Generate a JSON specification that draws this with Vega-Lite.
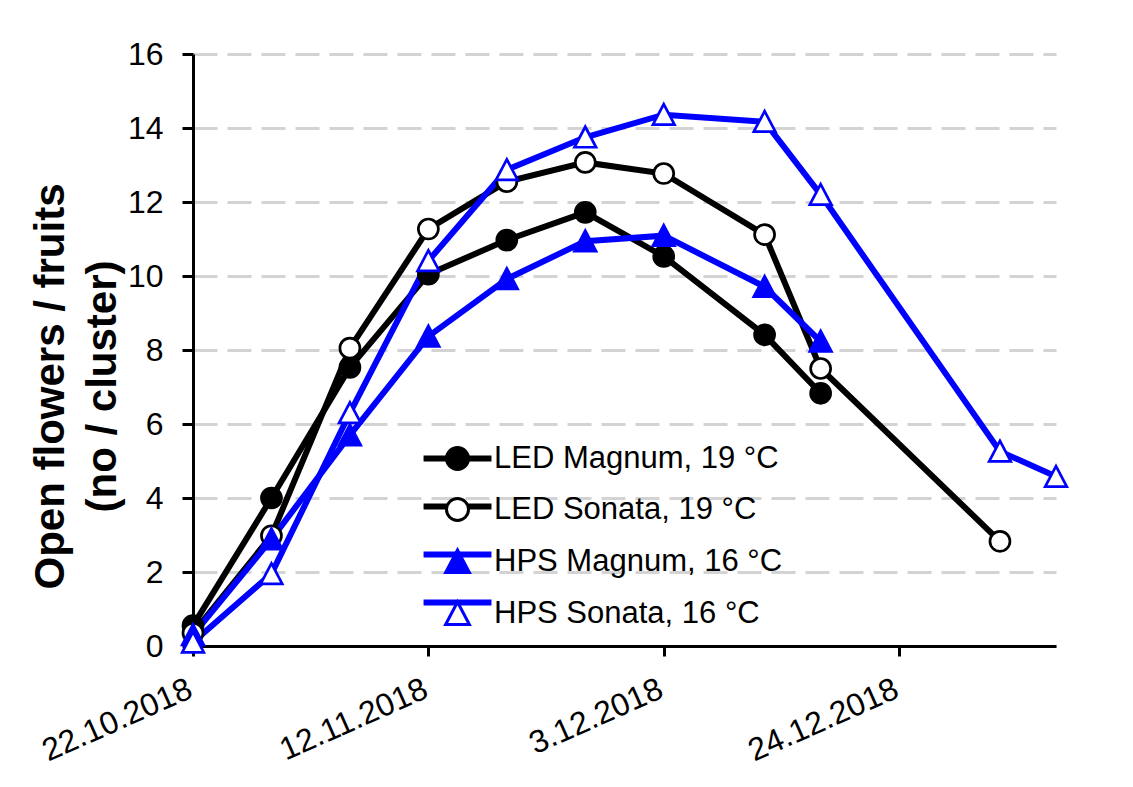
{
  "$schema": "https://vega.github.io/schema/vega-lite/v6.json",
  "width": 863,
  "height": 592,
  "autosize": "none",
  "padding": {"left": 193, "top": 54, "right": 77, "bottom": 141},
  "background": "white",
  "config": {
    "view": {"stroke": null},
    "font": "Liberation Sans"
  },
  "data": {
    "values": [
      {"date": "2018-10-22", "series": "LED Magnum, 19 °C", "value": 0.55},
      {"date": "2018-10-29", "series": "LED Magnum, 19 °C", "value": 4.0},
      {"date": "2018-11-05", "series": "LED Magnum, 19 °C", "value": 7.53},
      {"date": "2018-11-12", "series": "LED Magnum, 19 °C", "value": 10.05},
      {"date": "2018-11-19", "series": "LED Magnum, 19 °C", "value": 10.97},
      {"date": "2018-11-26", "series": "LED Magnum, 19 °C", "value": 11.72},
      {"date": "2018-12-03", "series": "LED Magnum, 19 °C", "value": 10.53},
      {"date": "2018-12-12", "series": "LED Magnum, 19 °C", "value": 8.41},
      {"date": "2018-12-17", "series": "LED Magnum, 19 °C", "value": 6.83},
      {"date": "2018-10-22", "series": "LED Sonata, 19 °C", "value": 0.35},
      {"date": "2018-10-29", "series": "LED Sonata, 19 °C", "value": 2.98},
      {"date": "2018-11-05", "series": "LED Sonata, 19 °C", "value": 8.05},
      {"date": "2018-11-12", "series": "LED Sonata, 19 °C", "value": 11.27},
      {"date": "2018-11-19", "series": "LED Sonata, 19 °C", "value": 12.55},
      {"date": "2018-11-26", "series": "LED Sonata, 19 °C", "value": 13.07},
      {"date": "2018-12-03", "series": "LED Sonata, 19 °C", "value": 12.77},
      {"date": "2018-12-12", "series": "LED Sonata, 19 °C", "value": 11.12},
      {"date": "2018-12-17", "series": "LED Sonata, 19 °C", "value": 7.5},
      {"date": "2019-01-02", "series": "LED Sonata, 19 °C", "value": 2.83},
      {"date": "2018-10-22", "series": "HPS Magnum, 16 °C", "value": 0.3},
      {"date": "2018-10-29", "series": "HPS Magnum, 16 °C", "value": 2.89},
      {"date": "2018-11-05", "series": "HPS Magnum, 16 °C", "value": 5.7},
      {"date": "2018-11-12", "series": "HPS Magnum, 16 °C", "value": 8.37},
      {"date": "2018-11-19", "series": "HPS Magnum, 16 °C", "value": 9.92},
      {"date": "2018-11-26", "series": "HPS Magnum, 16 °C", "value": 10.94},
      {"date": "2018-12-03", "series": "HPS Magnum, 16 °C", "value": 11.09},
      {"date": "2018-12-12", "series": "HPS Magnum, 16 °C", "value": 9.71},
      {"date": "2018-12-17", "series": "HPS Magnum, 16 °C", "value": 8.23},
      {"date": "2018-10-22", "series": "HPS Sonata, 16 °C", "value": 0.1},
      {"date": "2018-10-29", "series": "HPS Sonata, 16 °C", "value": 1.95},
      {"date": "2018-11-05", "series": "HPS Sonata, 16 °C", "value": 6.3},
      {"date": "2018-11-12", "series": "HPS Sonata, 16 °C", "value": 10.41},
      {"date": "2018-11-19", "series": "HPS Sonata, 16 °C", "value": 12.87},
      {"date": "2018-11-26", "series": "HPS Sonata, 16 °C", "value": 13.75},
      {"date": "2018-12-03", "series": "HPS Sonata, 16 °C", "value": 14.36},
      {"date": "2018-12-12", "series": "HPS Sonata, 16 °C", "value": 14.17},
      {"date": "2018-12-17", "series": "HPS Sonata, 16 °C", "value": 12.2},
      {"date": "2019-01-02", "series": "HPS Sonata, 16 °C", "value": 5.26},
      {"date": "2019-01-07", "series": "HPS Sonata, 16 °C", "value": 4.58}
    ]
  },
  "encoding": {
    "x": {
      "field": "date",
      "type": "temporal",
      "scale": {"type": "utc", "domain": [1540166400000, 1546819200000], "nice": false},
      "axis": {
        "title": null,
        "values": [1540166400000, 1541980800000, 1543795200000, 1545609600000],
        "labelExpr": "utcFormat(datum.value, '%-d.%-m.%Y')",
        "grid": false,
        "domainColor": "black",
        "domainWidth": 3,
        "tickColor": "black",
        "tickWidth": 3,
        "tickSize": 10,
        "labelFont": "Liberation Sans",
        "labelFontSize": 32,
        "labelColor": "black",
        "labelAngle": -24,
        "labelAlign": "right",
        "labelBaseline": "middle",
        "labelPadding": 31,
        "labelOffset": -3,
        "labelOverlap": false,
        "labelFlush": false,
        "labelBound": false
      }
    },
    "y": {
      "field": "value",
      "type": "quantitative",
      "scale": {"domain": [0, 16], "nice": false},
      "axis": {
        "values": [0, 2, 4, 6, 8, 10, 12, 14, 16],
        "title": ["Open flowers / fruits", "(no / cluster)"],
        "titleFont": "Liberation Sans",
        "titleFontSize": 42,
        "titleFontWeight": "bold",
        "titleColor": "black",
        "titleAngle": 270,
        "titleAlign": "center",
        "titleBaseline": "top",
        "titleLineHeight": 52,
        "titleX": -163,
        "titleY": 332,
        "domainColor": "black",
        "domainWidth": 3,
        "tickColor": "black",
        "tickWidth": 3,
        "tickSize": 11,
        "labelFont": "Liberation Sans",
        "labelFontSize": 32,
        "labelColor": "black",
        "labelPadding": 19,
        "grid": true,
        "gridColor": "#d3d3d3",
        "gridWidth": 3,
        "gridDash": [24, 10]
      }
    }
  },
  "resolve": {
    "legend": {"shape": "independent", "fill": "independent", "stroke": "independent"}
  },
  "layer": [
    {
      "mark": {"type": "line", "strokeWidth": 6},
      "encoding": {
        "color": {
          "field": "series",
          "type": "nominal",
          "scale": {
            "domain": ["LED Magnum, 19 °C", "LED Sonata, 19 °C", "HPS Magnum, 16 °C", "HPS Sonata, 16 °C"],
            "range": ["#000000", "#000000", "#0000ff", "#0000ff"]
          },
          "legend": {
            "orient": "none",
            "legendX": 249,
            "legendY": 389,
            "title": null,
            "padding": 0,
            "labelFont": "Liberation Sans",
            "labelFontSize": 31,
            "labelOpacity": 0,
            "labelLimit": 500,
            "labelOffset": 21,
            "rowPadding": 16,
            "symbolType": "M-2.95,-0.136H2.95V0.136H-2.95Z",
            "symbolSize": 484,
            "symbolStrokeWidth": 3,
            "symbolOpacity": 1
          }
        }
      }
    },
    {
      "mark": {"type": "point", "filled": true, "strokeWidth": 2.7, "opacity": 1, "size": 400},
      "encoding": {
        "shape": {
          "field": "series",
          "type": "nominal",
          "scale": {
            "domain": ["LED Magnum, 19 °C", "LED Sonata, 19 °C", "HPS Magnum, 16 °C", "HPS Sonata, 16 °C"],
            "range": ["circle", "circle", "M0,-1.05L1.08,1L-1.08,1Z", "M0,-1.05L1.08,1L-1.08,1Z"]
          },
          "legend": {
            "orient": "none",
            "legendX": 249,
            "legendY": 389,
            "title": null,
            "padding": 0,
            "labelFont": "Liberation Sans",
            "labelFontSize": 31,
            "labelColor": "black",
            "labelLimit": 500,
            "labelOffset": 21,
            "rowPadding": 16,
            "symbolSize": 484,
            "symbolStrokeWidth": 3,
            "symbolOpacity": 1
          }
        },
        "fill": {
          "field": "series",
          "type": "nominal",
          "scale": {
            "domain": ["LED Magnum, 19 °C", "LED Sonata, 19 °C", "HPS Magnum, 16 °C", "HPS Sonata, 16 °C"],
            "range": ["#000000", "#ffffff", "#0000ff", "#ffffff"]
          }
        },
        "stroke": {
          "field": "series",
          "type": "nominal",
          "scale": {
            "domain": ["LED Magnum, 19 °C", "LED Sonata, 19 °C", "HPS Magnum, 16 °C", "HPS Sonata, 16 °C"],
            "range": ["#000000", "#000000", "#0000ff", "#0000ff"]
          }
        }
      }
    }
  ]
}
